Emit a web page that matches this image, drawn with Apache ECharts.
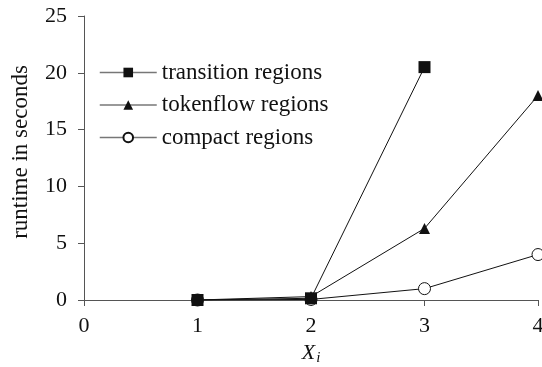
<!DOCTYPE html>
<html><head><meta charset="utf-8">
<script src="https://cdn.jsdelivr.net/npm/echarts@6/dist/echarts.min.js"></script>
<style>html,body{margin:0;padding:0;background:#fff}#c{width:542px;height:367px}</style>
</head><body><div id="c"></div>
<script>
const xValues = [1, 2, 3, 4];
const transition = [0, 0.15, 20.5, null];
const tokenflow = [0, 0.3, 6.3, 18];
const compact = [0, 0.05, 1.0, 4.0];
const seriesNames = ['transition regions', 'tokenflow regions', 'compact regions'];
const yTicks = [0, 5, 10, 15, 20, 25];

function pts(arr){ return xValues.map((x,i)=>[x, arr[i]]).filter(p=>p[1]!==null); }
const font = 'Liberation Serif';
const chart = echarts.init(document.getElementById('c'));
const mk = (name, data, symbol, size, fill) => ({
  name, type:'line', data: pts(data), symbol, symbolSize:size,
  lineStyle:{color:'#111', width:1}, itemStyle:{color:fill, borderColor:'#111', borderWidth: fill==='#fff'?1:0},
  showAllSymbol:true, animation:false, z: 3
});
chart.setOption({
  animation:false,
  grid:{left:84, right:4, top:16, bottom:67, outerBoundsMode:'none', containLabel:false},
  legend:{
    orient:'vertical', left:94, top:56, itemWidth:57, itemHeight:12, itemGap:9.5,
    data: seriesNames,
    textStyle:{fontFamily:font, fontSize:23, color:'#111', padding:[0,0,0,0]},
    lineStyle:{color:'#777', width:1.5}
  },
  xAxis:{type:'value', min:0, max:4, interval:1,
    axisLine:{lineStyle:{color:'#555'}}, axisTick:{show:true, length:6, lineStyle:{color:'#555'}},
    splitLine:{show:false},
    axisLabel:{fontFamily:font, fontSize:22, color:'#111', margin:15},
    name:'{x|X}{i|i}', nameLocation:'middle', nameGap:38,
    nameTextStyle:{rich:{x:{fontFamily:font, fontStyle:'italic', fontSize:22, color:'#111'}, i:{fontFamily:font, fontStyle:'italic', fontSize:15, color:'#111', verticalAlign:'bottom', padding:[10,0,0,1]}}}
  },
  yAxis:{type:'value', min:yTicks[0], max:yTicks[yTicks.length-1], interval:5,
    axisLine:{show:true, lineStyle:{color:'#555'}}, axisTick:{show:true, length:6, lineStyle:{color:'#555'}},
    splitLine:{show:false},
    axisLabel:{fontFamily:font, fontSize:22, color:'#111', margin:17},
    name:'runtime in seconds', nameLocation:'middle', nameGap:52, nameRotate:90,
    nameTextStyle:{fontFamily:font, fontSize:23, color:'#111', padding:[0,0,0,12]}
  },
  series:[
    mk(seriesNames[2], compact, 'circle', 12, '#fff'),
    mk(seriesNames[1], tokenflow, 'triangle', 11, '#111'),
    mk(seriesNames[0], transition, 'rect', 12, '#111')
  ]
});
</script></body></html>
